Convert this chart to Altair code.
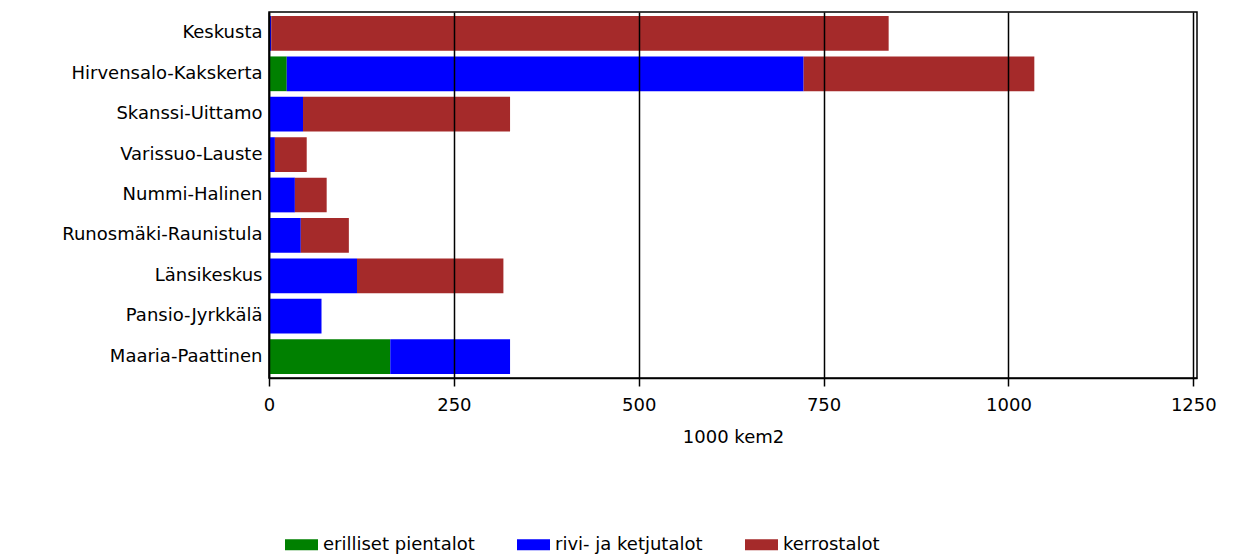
import altair as alt
import pandas as pd

areas = ["Keskusta", "Hirvensalo-Kakskerta", "Skanssi-Uittamo", "Varissuo-Lauste",
         "Nummi-Halinen", "Runosmäki-Raunistula", "Länsikeskus", "Pansio-Jyrkkälä",
         "Maaria-Paattinen"]
erilliset = [0, 24, 0, 0, 0, 0, 0, 0, 164]
rivi = [3, 699, 46, 8, 35, 43, 119, 71, 162]
kerros = [835, 312, 280, 43, 43, 65, 198, 0, 0]

series = ["erilliset pientalot", "rivi- ja ketjutalot", "kerrostalot"]
colors = ["#008000", "#0000ff", "#a52a2a"]
x_ticks = [0, 250, 500, 750, 1000, 1250]

rows = []
for i, a in enumerate(areas):
    for k, (s, vals) in enumerate(zip(series, [erilliset, rivi, kerros])):
        rows.append({"alue": a, "tyyppi": s, "arvo": vals[i], "jarj": k})
df = pd.DataFrame(rows)

FONT = "DejaVu Sans"
FS = 18

chart = alt.Chart(df).mark_bar().encode(
    y=alt.Y("alue:N", sort=areas, title=None,
            scale=alt.Scale(paddingInner=0.14, paddingOuter=0.1),
            axis=alt.Axis(labelFont=FONT, labelFontSize=FS, labelColor="#000",
                          ticks=False, tickSize=0, labelPadding=7,
                          domainColor="#000", domainWidth=1.5,
                          minExtent=261, maxExtent=261, labelLimit=300)),
    x=alt.X("arvo:Q", stack="zero", title="1000 kem2",
            scale=alt.Scale(domain=[0, 1255], nice=False, zero=True),
            axis=alt.Axis(values=x_ticks, format="d", labelFlush=False,
                          grid=True, gridColor="#000", gridWidth=1.5,
                          gridOpacity=1, zindex=1, tickColor="#000", tickSize=8,
                          tickWidth=1.5, domainColor="#000", domainWidth=1.5,
                          labelFont=FONT, labelFontSize=FS, labelColor="#000",
                          labelPadding=10, titleFont=FONT, titleFontSize=FS,
                          titleFontWeight="normal", titleColor="#000", titlePadding=14)),
    color=alt.Color("tyyppi:N", sort=series,
                    scale=alt.Scale(domain=series, range=colors),
                    legend=alt.Legend(title=None, orient="none", legendX=16, legendY=516,
                                      direction="horizontal", columns=3, columnPadding=42,
                                      symbolType="M-1,-0.3333H1V0.3333H-1Z",
                                      symbolSize=1089, symbolStrokeWidth=0,
                                      symbolOpacity=1, labelOffset=5,
                                      labelFont=FONT, labelFontSize=FS, labelColor="#000",
                                      padding=0, labelLimit=300)),
    order=alt.Order("jarj:Q"),
).properties(
    width=928, height=366,
    padding={"left": 0, "top": 4, "right": 10, "bottom": 0},
).configure(
    background="white"
).configure_view(
    stroke="#000", strokeWidth=1.5
)

chart.save("out.html", embed_options={"renderer": "svg", "actions": False})
